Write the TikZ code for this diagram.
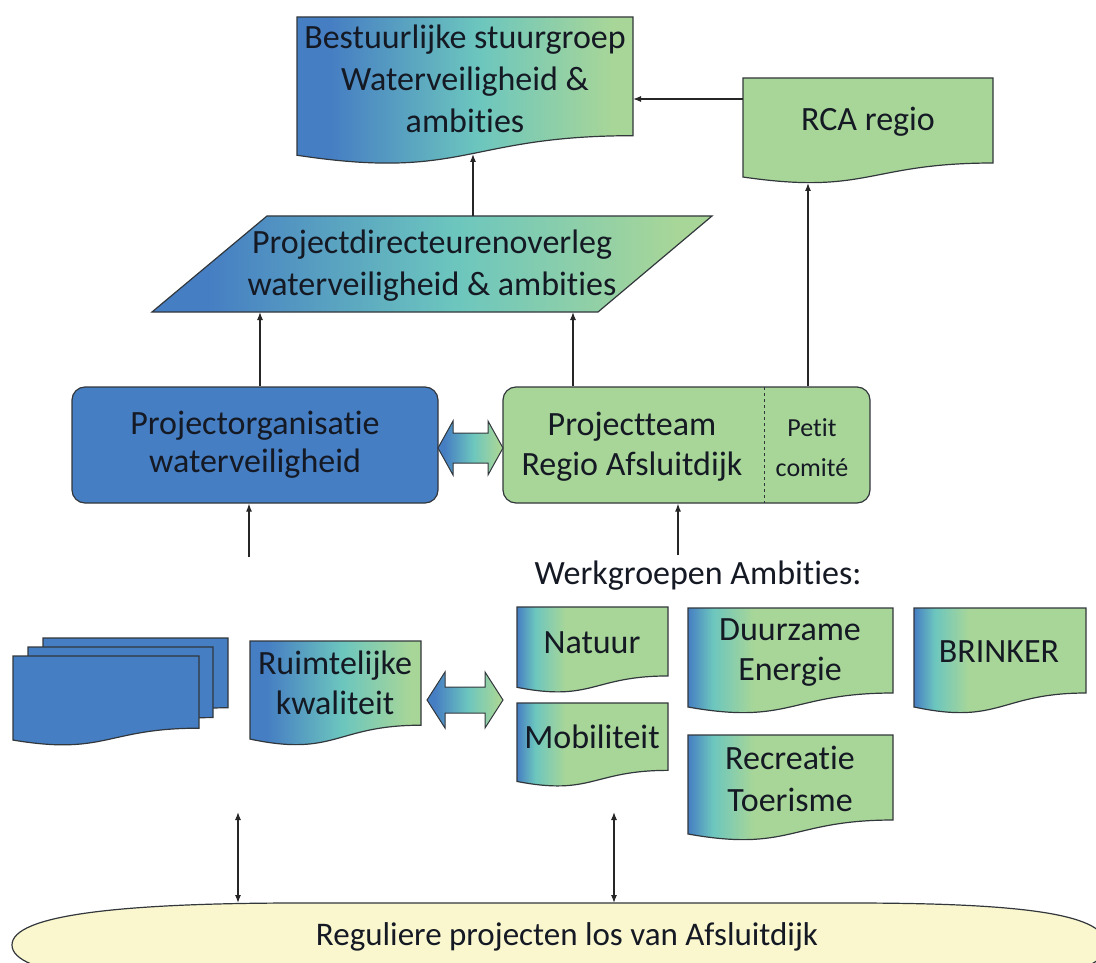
\documentclass[tikz,border=0pt]{standalone}
\usepackage{fontspec}
\setmainfont{Carlito}[Ligatures=NoCommon]
\usetikzlibrary{arrows.meta,calc}
\definecolor{dblue}{RGB}{70,126,195}
\definecolor{dteal}{RGB}{108,198,190}
\definecolor{dgreen}{RGB}{168,214,152}
\definecolor{bandclr}{RGB}{250,246,206}
\definecolor{lineclr}{RGB}{50,55,60}
\definecolor{txt}{RGB}{20,25,35}
\pgfdeclarehorizontalshading{maingrad}{100bp}{color(0bp)=(dblue); color(30bp)=(dblue); color(52bp)=(dteal); color(72bp)=(dgreen); color(100bp)=(dgreen)}
\pgfdeclarehorizontalshading{edgegrad}{100bp}{color(0bp)=(dblue); color(25bp)=(dblue); color(31bp)=(dteal); color(41bp)=(dgreen); color(100bp)=(dgreen)}
\newcommand\docshape[6]{%
  \pgfmathsetmacro\DSxr{#2+#4}\pgfmathsetmacro\DSxm{#2+0.5*#4}%
  \pgfmathsetmacro\DSyr{#3+0.802*#5}\pgfmathsetmacro\DSyc{#3+1.107*#5}\pgfmathsetmacro\DSyl{#3+0.934*#5}%
  \path[docline,#6] (#2,#3) -- (\DSxr,#3) -- (\DSxr,\DSyr) .. controls (\DSxm,\DSyr) and (\DSxm,\DSyc) .. (#2,\DSyl) -- cycle;
  \coordinate (#1-nw) at (#2,#3);
}
\begin{document}
\begin{tikzpicture}[x=1pt,y=-1pt,
  docline/.style={draw=lineclr,line width=1.2pt},
  txtn/.style={text=txt,align=center,inner sep=0pt,font=\fontsize{34}{41}\selectfont},
  rbox/.style={draw=lineclr,line width=1.2pt,rounded corners=13pt,text=txt,align=center,inner sep=0pt},
  arr/.style={-{Latex[length=8pt,width=6pt]},line width=1.2pt,draw=black!85},
  darr/.style={{Latex[length=8pt,width=6pt]}-{Latex[length=8pt,width=6pt]},line width=1.2pt,draw=black!85},
  dashsep/.style={dashed,line width=1pt,draw=lineclr}]
\useasboundingbox (0,0) rectangle (1096,963);

% bottom band
\begin{scope}
\clip (0,0) rectangle (1096,963);
\path[docline,fill=bandclr] (12,945) .. controls (12,915) and (120,903) .. (300,903) -- (850,903) .. controls (1030,903) and (1106,915) .. (1106,945) .. controls (1106,975) and (1030,987) .. (850,987) -- (300,987) .. controls (120,987) and (12,975) .. (12,945) -- cycle;
\end{scope}
\node[txtn,font=\fontsize{33}{40}\selectfont] (reg) at (567,937) {Reguliere projecten los van Afsluitdijk};
\coordinate (band1) at (238,903);
\coordinate (band2) at (614,903);

% top documents
\docshape{bes}{297}{17}{336}{148}{shading=maingrad}
\node[txtn,font=\fontsize{34}{42}\selectfont] (best) at (465,79) {Bestuurlijke stuurgroep\\Waterveiligheid \&\\ambities};
\docshape{rca}{743}{78}{250}{106}{fill=dgreen}
\node[txtn] (rcat) at (868,122) {RCA regio};

% parallelogram
\path[docline,shading=maingrad] (267,216) -- (712,216) -- (598,312) -- (152,312) -- cycle;
\node[txtn,font=\fontsize{34}{42}\selectfont] (pdo) at (432,266) {Projectdirecteurenoverleg\\waterveiligheid \& ambities};

\coordinate (pdo-top) at (473,216);
\coordinate (bes-bot) at (473,154);
\coordinate (rca-w) at (743,99);
\coordinate (bes-e) at (633,99);
\coordinate (pdo-b1) at (260,312);
\coordinate (pdo-b2) at (573,312);
\coordinate (rca-s) at (808,183);
\draw[arr] (pdo-top) -- (bes-bot);
\draw[arr] (rca-w) -- (bes-e);

% middle boxes
\node[rbox,fill=dblue,minimum width=366pt,minimum height=116pt,font=\fontsize{34}{38}\selectfont] (porg) at (255,445) {Projectorganisatie\\waterveiligheid};
\node[rbox,fill=dgreen,minimum width=367pt,minimum height=116pt] (pteam) at (686.5,445) {};
\coordinate (dtop) at (764,387);
\coordinate (dbot) at (764,503);
\draw[dashsep] (dtop) -- (dbot);
\node[txtn,font=\fontsize{34}{40}\selectfont] (ptt) at (632,447) {Projectteam\\Regio Afsluitdijk};
\node[txtn,font=\fontsize{26}{40}\selectfont] (petit) at (812,448) {Petit\\comité};

\draw[arr] (pdo-b1 |- porg.north) -- (pdo-b1);
\draw[arr] (pdo-b2 |- pteam.north) -- (pdo-b2);
\draw[arr] (rca-s |- pteam.north) -- (rca-s);

% block double arrow between middle boxes
\path[docline,line width=1pt,shading=maingrad] (438,448) -- (453,421) -- (453,433) -- (488,433) -- (488,421) -- (503,448) -- (488,475) -- (488,463) -- (453,463) -- (453,475) -- cycle;

\coordinate (porg-in) at (249,557);
\coordinate (pteam-in) at (678,555);
\draw[arr] (porg-in) -- (porg-in |- porg.south);
\draw[arr] (pteam-in) -- (pteam-in |- pteam.south);

\node[txtn] (wg) at (698,576) {Werkgroepen Ambities:};

% stacked documents
\docshape{st3}{43}{638}{185}{87}{fill=dblue}
\docshape{st2}{28}{647}{185}{88}{fill=dblue}
\docshape{st1}{13}{656}{186}{90}{fill=dblue}

% Ruimtelijke kwaliteit
\docshape{ruim}{250}{641}{171}{105}{shading=maingrad}
\node[txtn,font=\fontsize{34}{40}\selectfont] (ruimt) at (335,683) {Ruimtelijke\\kwaliteit};

\path[docline,line width=1pt,shading=maingrad] (427,700) -- (445,672) -- (445,687) -- (485,687) -- (485,672) -- (503,700) -- (485,728) -- (485,713) -- (445,713) -- (445,728) -- cycle;

% werkgroepen
\docshape{nat}{517}{607}{151}{86}{shading=edgegrad}
\node[txtn] (natt) at (592,643) {Natuur};
\docshape{mob}{517}{703}{151}{84}{shading=edgegrad}
\node[txtn] (mobt) at (592,737) {Mobiliteit};
\docshape{duu}{688}{608}{205}{106}{shading=edgegrad}
\node[txtn,font=\fontsize{34}{40}\selectfont] (duut) at (790,653) {Duurzame\\Energie};
\docshape{bri}{914}{608}{172}{106}{shading=edgegrad}
\node[txtn] (brit) at (999,652) {BRINKER};
\docshape{rec}{688}{735}{205}{106}{shading=edgegrad}
\node[txtn,font=\fontsize{34}{42}\selectfont] (rect) at (790,779) {Recreatie\\Toerisme};

% links to regular projects
\coordinate (v1) at (238,812);
\coordinate (v2) at (614,812);
\draw[darr] (v1) -- (band1);
\draw[darr] (v2) -- (band2);
\end{tikzpicture}
\end{document}
